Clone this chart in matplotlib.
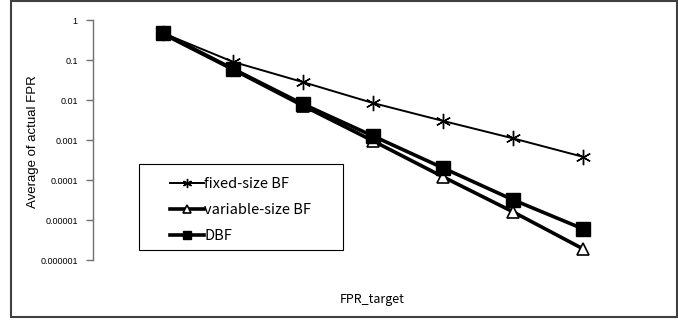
import matplotlib
matplotlib.use("Agg")
import matplotlib.pyplot as plt
from matplotlib.patches import Rectangle

plt.rcParams['font.family'] = ['Noto Sans CJK JP', 'DejaVu Sans']

x_pos = [1, 2, 3, 4, 5, 6, 7]
fixed_bf = [0.47, 0.09, 0.028, 0.0084, 0.003, 0.0011, 0.00038]
variable_bf = [0.45, 0.058, 0.0072, 0.00095, 0.00012, 0.000016, 0.0000019]
dbf = [0.47, 0.06, 0.0079, 0.00126, 0.0002, 0.000032, 0.000006]
y_ticks = [1, 0.1, 0.01, 0.001, 0.0001, 0.00001, 0.000001]
y_tick_labels = ["1", "0.1", "0.01", "0.001", "0.0001", "0.00001", "0.000001"]

W, H = 678, 322
fig = plt.figure(figsize=(W / 100, H / 100), dpi=100)
ax = fig.add_axes([93 / W, 1 - 260 / H, 560 / W, 240 / H])

ax.plot(x_pos, fixed_bf, color="black", lw=1.4, marker=(6, 2, 0), ms=11,
        mew=1.0, label="fixed-size BF")
ax.plot(x_pos, variable_bf, color="black", lw=2.6, marker="^", ms=9,
        mfc="white", mec="black", mew=1.2, label="variable-size BF")
ax.plot(x_pos, dbf, color="black", lw=2.6, marker="s", ms=10,
        mfc="black", mec="black", label="DBF")

ax.set_yscale("log")
ax.set_ylim(1e-6, 1)
ax.set_xlim(0, 8)
ax.set_yticks(y_ticks)
ax.set_yticklabels(y_tick_labels, family=["Liberation Sans", "DejaVu Sans"])
ax.minorticks_off()
ax.tick_params(axis="y", direction="out", length=5, width=1, color="#707070",
               labelsize=6.5, pad=6)
ax.set_xticks([])
for s in ["top", "right", "bottom"]:
    ax.spines[s].set_visible(False)
ax.spines["left"].set_linewidth(1.0)
ax.spines["left"].set_color("#707070")

fig.text(33 / W, 1 - 142 / H, "Average of actual FPR", rotation=90,
         ha="center", va="center", fontsize=9.5,
         family=["Liberation Sans", "DejaVu Sans"])
fig.text(372 / W, 1 - 300 / H, "FPR_target", ha="center", va="center", fontsize=9)

leg = ax.legend(loc="center left", bbox_to_anchor=(170 / W, 1 - 210 / H),
                bbox_transform=fig.transFigure, frameon=False,
                fontsize=10.5, handlelength=2.3, markerscale=0.6,
                handletextpad=0.05, labelspacing=0.85, borderpad=0,
                borderaxespad=0)

fig.patches.append(Rectangle((139 / W, 1 - 250 / H), 204 / W, 86 / H,
                             transform=fig.transFigure, fill=False,
                             edgecolor="black", lw=0.8))
fig.patches.append(Rectangle((11 / W, 1 - 317 / H), 666 / W, 316 / H,
                             transform=fig.transFigure, fill=False,
                             edgecolor="#404040", lw=1.5))

fig.savefig("out.png", dpi=100)
